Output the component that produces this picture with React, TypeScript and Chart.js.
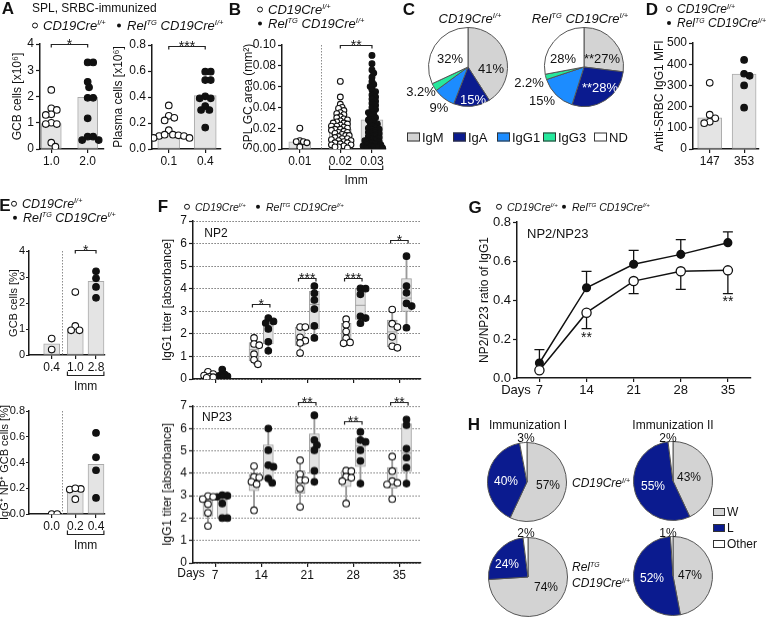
import React, { useEffect, useRef } from 'react';
import { Chart, registerables } from 'chart.js';

Chart.register(...registerables);

const FONT = "'Liberation Sans', Arial, Helvetica, sans-serif";
Chart.defaults.font.family = FONT;
Chart.defaults.color = '#111';

// ---------------- DATA ----------------
// A
const aGcbLabels = ['1.0', '2.0'];
const aGcbBars = [0.97, 1.97];
const aGcbWT = [2.25, 1.55, 1.49, 1.32, 1.3, 1.0, 0.95, 0.95, 0.24, 0.09];
const aGcbRel = [3.3, 3.3, 2.56, 2.35, 1.95, 1.95, 1.17, 0.47, 0.47, 0.34, 0.34];
const aPlasmaLabels = ['0.1', '0.4'];
const aPlasmaBars = [0.125, 0.41];
const aPlasmaWT = [0.335, 0.255, 0.24, 0.22, 0.145, 0.11, 0.105, 0.1, 0.1, 0.11, 0.085, 0.085];
const aPlasmaRel = [0.595, 0.595, 0.53, 0.53, 0.405, 0.39, 0.39, 0.33, 0.3, 0.3, 0.165];
// B
const bLabels = ['0.01', '0.02', '0.03'];
const bBars = [0.007, 0.019, 0.028];
const bWT = [0.02, 0.008, 0.007, 0.007, 0.006, 0.002];
const bImmWT = [0.065, 0.05, 0.043, 0.04, 0.039, 0.037, 0.035, 0.034, 0.033, 0.031, 0.03, 0.029, 0.028, 0.027, 0.026, 0.025, 0.025, 0.024, 0.023, 0.022, 0.022, 0.021, 0.02, 0.019, 0.019, 0.018, 0.017, 0.016, 0.016, 0.015, 0.014, 0.013, 0.013, 0.012, 0.011, 0.01, 0.01, 0.009, 0.008, 0.008, 0.007, 0.006, 0.006, 0.005, 0.004, 0.004, 0.003, 0.002, 0.002, 0.001];
const bImmRel = [0.09, 0.082, 0.076, 0.073, 0.069, 0.065, 0.062, 0.06, 0.057, 0.055, 0.052, 0.05, 0.048, 0.046, 0.044, 0.042, 0.04, 0.038, 0.036, 0.035, 0.033, 0.032, 0.03, 0.029, 0.028, 0.026, 0.025, 0.024, 0.022, 0.021, 0.02, 0.019, 0.018, 0.017, 0.016, 0.015, 0.014, 0.013, 0.012, 0.011, 0.01, 0.009, 0.008, 0.008, 0.007, 0.006, 0.005, 0.005, 0.004, 0.003, 0.003, 0.002, 0.002, 0.001, 0.001];
// C
const cCategories = ['IgM', 'IgA', 'IgG1', 'IgG3', 'ND'];
const cWT = [41, 15, 9, 3.2, 32];
const cRel = [27, 28, 15, 2.2, 28];
const cRelMarks = ['**', '**', '', '', ''];
// D
const dLabels = ['147', '353'];
const dBars = [147, 353];
const dWT = [312, 162, 145, 128, 122];
const dRel = [420, 355, 345, 300, 195];
// E
const eTopLabels = ['0.4', '1.0', '2.8'];
const eTopBars = [0.43, 1.02, 2.83];
const eTopNaive = [0.63, 0.21];
const eTopWT = [2.42, 1.12, 0.95, 0.95];
const eTopRel = [3.22, 2.95, 2.62, 2.2];
const eBotLabels = ['0.0', '0.2', '0.4'];
const eBotBars = [0.0, 0.19, 0.385];
const eBotNaive = [0, 0];
const eBotWT = [0.195, 0.19, 0.2, 0.115];
const eBotRel = [0.63, 0.44, 0.34, 0.125];
// F
const fDays = ['7', '14', '21', '28', '35'];
const fNp2WT = [
  [0.32, 0.22, 0.15, 0.1, 0.08, 0.05],
  [1.82, 1.55, 1.5, 1.1, 0.85, 0.65],
  [2.3, 2.3, 1.85, 1.7, 1.6, 1.15],
  [2.65, 2.4, 2.1, 1.8, 1.62, 1.58],
  [3.08, 2.45, 2.3, 1.87, 1.45, 1.38],
];
const fNp2Rel = [
  [0.42, 0.2, 0.15, 0.12, 0.1, 0.08],
  [2.7, 2.55, 2.48, 2.22, 1.65, 1.25],
  [4.12, 3.8, 3.5, 3.1, 2.35, 1.82],
  [4.02, 4.0, 3.75, 2.78, 2.7, 2.47],
  [5.44, 4.12, 3.82, 3.35, 3.23, 2.27],
];
const fNp23WT = [
  [2.98, 2.95, 2.85, 2.62, 2.23, 1.65],
  [4.32, 3.84, 3.81, 3.62, 3.51, 2.35],
  [4.58, 3.96, 3.69, 3.69, 3.32, 2.5],
  [4.12, 4.1, 3.85, 3.8, 3.65, 2.65],
  [4.75, 4.1, 3.65, 3.57, 3.5, 2.85],
];
const fNp23Rel = [
  [3.02, 3.0, 2.95, 2.65, 2.0, 2.0],
  [6.0, 5.03, 4.36, 4.29, 3.77, 3.57],
  [6.59, 5.48, 5.26, 5.03, 4.11, 3.62],
  [5.85, 5.48, 5.4, 5.03, 4.55, 3.54],
  [6.4, 6.15, 5.1, 4.7, 4.26, 3.54],
];
// G
const gDays = [7, 14, 21, 28, 35];
const gWT = [0.04, 0.335, 0.497, 0.547, 0.552];
const gWTsd = [0, 0.082, 0.064, 0.092, 0.119];
const gRel = [0.077, 0.463, 0.583, 0.634, 0.694];
const gRelSd = [0.069, 0.084, 0.072, 0.076, 0.055];
// H
const hCategories = ['W', 'L', 'Other'];
const hImmI_WT = [57, 40, 3];
const hImmII_WT = [43, 55, 2];
const hImmI_Rel = [74, 24, 2];
const hImmII_Rel = [47, 52, 1];

// ---------------- STYLE ----------------
const C_AXIS = '#1a1a1a';
const C_BAR = '#e4e4e4';
const C_BAR_BORDER = '#ababab';
const GRAY = '#d3d3d3';
const NAVY = '#0b1b8f';
const BLUE = '#1c8cff';
const GREEN = '#25e89c';
const WHITE = '#ffffff';
const cColors = [GRAY, NAVY, BLUE, GREEN, WHITE];
const hColors = [GRAY, NAVY, WHITE];

// ---------------- HELPERS ----------------
// beeswarm layout of the points (horizontal pixel offsets only)
function swarm(values: number[], yPx: number, r: number, tight: number, maxOff = Infinity): number[] {
  const dmin = 2 * r * tight;
  const order = values.map((_, i) => i).sort((a, b) => values[b] - values[a]);
  const placed: number[][] = [];
  const out = values.map(() => 0);
  order.forEach((i) => {
    const y = values[i] * yPx;
    let best = 0;
    let bestD = -1;
    for (let k = 0; k < 400; k++) {
      const c = (k % 2 ? 1 : -1) * Math.ceil(k / 2) * (dmin / 4);
      if (Math.abs(c) > maxOff) break;
      const md = placed.reduce((m, [px, py]) => Math.min(m, (px - c) ** 2 + (py - y) ** 2), Infinity);
      if (md >= dmin * dmin) {
        best = c;
        break;
      }
      if (md > bestD) {
        bestD = md;
        best = c;
      }
    }
    out[i] = best;
    placed.push([best, y]);
  });
  return out;
}

function quant(s: number[], p: number) {
  const n = s.length;
  const h = (n + 1) * p;
  if (h <= 1) return s[0];
  if (h >= n) return s[n - 1];
  const lo = Math.floor(h);
  return s[lo - 1] + (h - lo) * (s[lo] - s[lo - 1]);
}

const tickValues = (ymax: number, step: number) => {
  const t: number[] = [];
  for (let k = 0; k * step <= ymax + 1e-9; k++) t.push(+(k * step).toFixed(6));
  return t;
};

const zeroPad = (s: any) => {
  s.paddingTop = 0;
  s.paddingBottom = 0;
  s.paddingLeft = 0;
  s.paddingRight = 0;
};

function yAxisOpts(o: any) {
  const { ymax, step, dec, title, titlePad, axisW, fs = 12, titleFs = 12, grid = false, tl = 4, tp = 2 } = o;
  return {
    type: 'linear',
    min: 0,
    max: ymax,
    afterBuildTicks: (s: any) => {
      s.ticks = tickValues(ymax, step).map((value) => ({ value }));
    },
    ticks: {
      display: true,
      autoSkip: false,
      callback: (v: any) => Number(v).toFixed(dec),
      font: { size: fs },
      padding: tp,
      color: '#111',
    },
    grid: {
      display: true,
      drawOnChartArea: grid,
      drawTicks: true,
      color: grid ? '#555' : C_AXIS,
      lineWidth: 1,
      tickLength: tl,
      tickColor: C_AXIS,
      tickWidth: 1.2,
    },
    border: { display: true, color: C_AXIS, width: 1.5, dash: grid ? [1.2, 1.8] : [] },
    title: {
      display: true,
      text: title,
      font: { size: titleFs, lineHeight: 1 },
      padding: { top: titlePad, bottom: 0 },
      color: '#111',
    },
    afterFit: (s: any) => {
      s.width = axisW;
      zeroPad(s);
    },
  };
}

function xAxisOpts(xmin: number, xmax: number, pos: number[], labels: string[], axisH: number, fs: number) {
  return {
    type: 'linear',
    min: xmin,
    max: xmax,
    offset: false,
    afterBuildTicks: (s: any) => {
      s.ticks = pos.map((v) => ({ value: v }));
    },
    ticks: {
      callback: (_v: any, i: number) => labels[i] ?? '',
      autoSkip: false,
      maxRotation: 0,
      minRotation: 0,
      font: { size: fs },
      padding: 1,
      color: '#111',
    },
    grid: { drawOnChartArea: false, offset: false, tickLength: 4, color: C_AXIS, lineWidth: 1.2 },
    border: { color: C_AXIS, width: 1.5 },
    afterFit: (s: any) => {
      s.height = axisH;
      zeroPad(s);
    },
  };
}

const annotPlugin = {
  id: 'annot',
  beforeDatasetsDraw(chart: any, _a: any, o: any) {
    const { ctx, chartArea: ca, scales } = chart;
    const xs = scales.x;
    const ys = scales.y;
    ctx.save();
    (o.seps || []).forEach((s: number) => {
      const x = Math.round(xs.getPixelForValue(s)) + 0.5;
      ctx.strokeStyle = '#8c8c8c';
      ctx.lineWidth = 1;
      ctx.setLineDash([1.5, 1.5]);
      ctx.beginPath();
      ctx.moveTo(x, ca.top);
      ctx.lineTo(x, ca.bottom);
      ctx.stroke();
    });
    ctx.setLineDash([]);
    (o.errors || []).forEach((e: any) => {
      e.x.forEach((xv: number, i: number) => {
        if (!e.sd[i]) return;
        const px = xs.getPixelForValue(xv);
        const p0 = ys.getPixelForValue(e.y[i]);
        const p1 = ys.getPixelForValue(e.y[i] + e.dir * e.sd[i]);
        ctx.strokeStyle = '#111';
        ctx.lineWidth = 1.3;
        ctx.beginPath();
        ctx.moveTo(px, p0);
        ctx.lineTo(px, p1);
        ctx.moveTo(px - 5, p1);
        ctx.lineTo(px + 5, p1);
        ctx.stroke();
      });
    });
    ctx.restore();
  },
  afterDraw(chart: any, _a: any, o: any) {
    const { ctx, chartArea: ca, scales } = chart;
    const xs = scales.x;
    const ys = scales.y;
    ctx.save();
    ctx.strokeStyle = '#222';
    ctx.fillStyle = '#111';
    ctx.lineWidth = 1.2;
    ctx.textAlign = 'center';
    (o.brackets || []).forEach((b: any) => {
      const x1 = xs.getPixelForValue(b.x1);
      const x2 = xs.getPixelForValue(b.x2);
      const y = Math.round(ys.getPixelForValue(b.y)) + 0.5;
      ctx.beginPath();
      ctx.moveTo(x1, y + 3);
      ctx.lineTo(x1, y);
      ctx.lineTo(x2, y);
      ctx.lineTo(x2, y + 3);
      ctx.stroke();
      ctx.font = `14px ${FONT}`;
      ctx.textBaseline = 'alphabetic';
      ctx.fillText(b.text, (x1 + x2) / 2, y + 4);
    });
    if (o.imm) {
      const x1 = xs.getPixelForValue(o.imm[0]);
      const x2 = xs.getPixelForValue(o.imm[1]);
      const y = Math.round(ca.bottom + 20) + 0.5;
      ctx.beginPath();
      ctx.moveTo(x1, y - 4);
      ctx.lineTo(x1, y);
      ctx.lineTo(x2, y);
      ctx.lineTo(x2, y - 4);
      ctx.stroke();
      ctx.font = `12px ${FONT}`;
      ctx.textBaseline = 'middle';
      ctx.fillText('Imm', (x1 + x2) / 2, y + 11);
    }
    (o.texts || []).forEach((t: any) => {
      ctx.font = `${t.size || 14}px ${FONT}`;
      ctx.textBaseline = 'middle';
      ctx.fillText(t.text, xs.getPixelForValue(t.x), ys.getPixelForValue(t.y));
    });
    ctx.restore();
  },
};

function ChartBox({ left, top, width, height, make }: any) {
  const ref = useRef<HTMLCanvasElement | null>(null);
  useEffect(() => {
    const c = new Chart(ref.current as HTMLCanvasElement, make());
    return () => c.destroy();
  }, []);
  return (
    <canvas
      ref={ref}
      width={width}
      height={height}
      style={{ position: 'absolute', left, top, width, height }}
    />
  );
}

const baseOpts = (padTop: number, padRight: number, annot: any) => ({
  responsive: false,
  animation: false,
  events: [],
  layout: { padding: { top: padTop, right: padRight, left: 0, bottom: 0 } },
  plugins: { legend: { display: false }, tooltip: { enabled: false }, annot },
});

function DotChart({ s }: any) {
  const padRight = s.padRight ?? 4;
  const width = s.axisW + s.plotW + padRight;
  const height = s.padTop + s.plotH + s.axisH;
  const make = () => {
    const xPx = s.plotW / (s.xmax - s.xmin);
    const yPx = s.plotH / s.ymax;
    const datasets: any[] = [
      {
        type: 'bar',
        data: s.pos.map((p: number, i: number) => ({ x: p, y: s.bars[i] })),
        backgroundColor: C_BAR,
        borderColor: C_BAR_BORDER,
        borderWidth: 1,
        borderSkipped: false,
        barThickness: s.barW,
        grouped: false,
        order: 3,
      },
    ];
    s.pts.forEach((g: any) => {
      const offs = swarm(g.v, yPx, s.r, s.tight ?? 0.85, s.maxOff ?? Infinity);
      datasets.push({
        type: 'scatter',
        data: g.v.map((v: number, j: number) => ({ x: s.pos[g.g] + offs[j] / xPx, y: v })),
        pointRadius: s.r,
        pointBackgroundColor: g.filled ? '#111' : '#fff',
        pointBorderColor: '#111',
        pointBorderWidth: 1.1,
        order: 1,
      });
    });
    return {
      type: 'scatter',
      data: { datasets },
      options: {
        ...baseOpts(s.padTop, padRight, { seps: s.seps, brackets: s.brackets, imm: s.imm }),
        scales: {
          x: xAxisOpts(s.xmin, s.xmax, s.pos, s.labels, s.axisH, 12),
          y: yAxisOpts({
            ymax: s.ymax, step: s.step, dec: s.dec, title: s.title, titlePad: s.titlePad, axisW: s.axisW,
            fs: s.fs ?? 12, titleFs: s.titleFs ?? 12, tl: s.tl ?? 4, tp: s.tp ?? 2,
          }),
        },
      },
      plugins: [annotPlugin],
    };
  };
  return <ChartBox left={s.axisX - s.axisW} top={s.yTop - s.padTop} width={width} height={height} make={make} />;
}

function BoxChart({ s }: any) {
  const padRight = 2;
  const width = s.axisW + s.plotW + padRight;
  const height = s.padTop + s.plotH + s.axisH;
  const xmin = -0.48;
  const xmax = 4.47;
  const OFF = 0.155;
  const r = 3.3;
  const make = () => {
    const xPx = s.plotW / (xmax - xmin);
    const yPx = s.plotH / 7;
    const whisk: any[] = [];
    const boxes: any[] = [];
    const meds: any[] = [];
    const pts: any[][] = [[], []];
    [s.wt, s.rel].forEach((grp: number[][], gi: number) =>
      grp.forEach((vals, d) => {
        const x = d + (gi ? OFF : -OFF);
        const so = [...vals].sort((a, b) => a - b);
        whisk.push({ x, y: [so[0], so[so.length - 1]] });
        boxes.push({ x, y: [quant(so, 0.25), quant(so, 0.75)] });
        meds.push({ x, y: quant(so, 0.5) });
        const offs = swarm(vals, yPx, r, 0.8, 6);
        vals.forEach((v, j) => pts[gi].push({ x: x + offs[j] / xPx, y: v }));
      })
    );
    const datasets: any[] = [
      { type: 'bar', data: whisk, backgroundColor: '#9a9a9a', borderWidth: 0, barThickness: 1.2, grouped: false, order: 6 },
      { type: 'bar', data: boxes, backgroundColor: '#e2e2e2', borderColor: '#9e9e9e', borderWidth: 1, borderSkipped: false, barThickness: 10, grouped: false, order: 5 },
      { type: 'scatter', data: meds, pointStyle: 'line', pointRadius: 5, pointBorderColor: '#9e9e9e', pointBorderWidth: 1, order: 4 },
      { type: 'scatter', data: pts[0], pointRadius: r, pointBackgroundColor: '#fff', pointBorderColor: '#111', pointBorderWidth: 1.1, order: 1 },
      { type: 'scatter', data: pts[1], pointRadius: r, pointBackgroundColor: '#111', pointBorderColor: '#111', pointBorderWidth: 1.1, order: 1 },
    ];
    return {
      type: 'scatter',
      data: { datasets },
      options: {
        ...baseOpts(s.padTop, padRight, { brackets: s.brackets }),
        scales: {
          x: xAxisOpts(xmin, xmax, [0, 1, 2, 3, 4], s.labels, s.axisH, 12),
          y: yAxisOpts({ ymax: 7, step: 1, dec: 0, title: 'IgG1 titer [absorbance]', titlePad: s.titlePad, axisW: s.axisW, fs: 12, grid: true }),
        },
      },
      plugins: [annotPlugin],
    };
  };
  return <ChartBox left={s.axisX - s.axisW} top={s.yTop - s.padTop} width={width} height={height} make={make} />;
}

function LineChartG() {
  const axisX = 517, yTop = 221.7, axisW = 52, plotW = 235, plotH = 156, padTop = 8, axisH = 22, padRight = 4;
  const make = () => ({
    type: 'line',
    data: {
      datasets: [
        {
          data: gDays.map((d, i) => ({ x: d, y: gWT[i] })),
          borderColor: '#111',
          borderWidth: 1.5,
          pointRadius: 4.6,
          pointBackgroundColor: '#fff',
          pointBorderColor: '#111',
          pointBorderWidth: 1.3,
          tension: 0,
        },
        {
          data: gDays.map((d, i) => ({ x: d, y: gRel[i] })),
          borderColor: '#111',
          borderWidth: 1.5,
          pointRadius: 3.8,
          pointBackgroundColor: '#111',
          pointBorderColor: '#111',
          tension: 0,
        },
      ],
    },
    options: {
      ...baseOpts(padTop, padRight, {
        errors: [
          { x: gDays, y: gWT, sd: gWTsd, dir: -1 },
          { x: gDays, y: gRel, sd: gRelSd, dir: 1 },
        ],
        texts: [
          { x: 14, y: 0.205, text: '**' },
          { x: 35, y: 0.39, text: '**' },
        ],
      }),
      scales: {
        x: xAxisOpts(3.67, 38.3, gDays, gDays.map(String), axisH, 13),
        y: yAxisOpts({ ymax: 0.8, step: 0.2, dec: 1, title: 'NP2/NP23 ratio of IgG1', titlePad: 14, axisW, fs: 13 }),
      },
    },
    plugins: [annotPlugin],
  });
  return <ChartBox left={axisX - axisW} top={yTop - padTop} width={axisW + plotW + padRight} height={padTop + plotH + axisH} make={make} />;
}

function Pie({ cx, cy, r, values, colors, labels }: any) {
  const size = 2 * r + 4;
  const make = () => ({
    type: 'pie',
    data: { labels, datasets: [{ data: values, backgroundColor: colors, borderColor: '#555', borderWidth: 1 }] },
    options: {
      responsive: false,
      animation: false,
      events: [],
      layout: { padding: 2 },
      plugins: { legend: { display: false }, tooltip: { enabled: false } },
    },
  });
  return <ChartBox left={cx - r - 2} top={cy - r - 2} width={size} height={size} make={make} />;
}

function T({ x, y, a = 'c', s = 12, c = '#111', b = false, i = false, children }: any) {
  const tx = a === 'l' ? '0' : a === 'r' ? '-100%' : '-50%';
  return (
    <div
      style={{
        position: 'absolute',
        left: x,
        top: y,
        transform: `translate(${tx},-50%)`,
        fontSize: s,
        lineHeight: 1,
        color: c,
        fontWeight: b ? 700 : 400,
        fontStyle: i ? 'italic' : 'normal',
        whiteSpace: 'nowrap',
      }}
    >
      {children}
    </div>
  );
}

const supStyle: any = { fontSize: '0.58em', lineHeight: 0, verticalAlign: '0.6em' };
function Geno({ rel }: any) {
  return (
    <span style={{ fontStyle: 'italic' }}>
      {rel ? (
        <>
          Rel<span style={supStyle}>TG</span>{' '}
        </>
      ) : null}
      CD19Cre<span style={supStyle}>I/+</span>
    </span>
  );
}

function Leg({ x, y, filled, rel, s = 13 }: any) {
  return (
    <div
      style={{
        position: 'absolute',
        left: x,
        top: y,
        transform: 'translateY(-50%)',
        display: 'flex',
        alignItems: 'center',
        fontSize: s,
        lineHeight: 1,
        whiteSpace: 'nowrap',
      }}
    >
      <span
        style={{
          display: 'inline-block',
          width: filled ? 4 : 6,
          height: filled ? 4 : 6,
          borderRadius: '50%',
          border: filled ? 'none' : '1px solid #111',
          background: filled ? '#111' : '#fff',
          marginRight: filled ? 6 : 5,
          boxSizing: 'border-box',
        }}
      />
      <Geno rel={rel} />
    </div>
  );
}

function Letter({ x, y, t }: any) {
  return (
    <T x={x} y={y} s={17} b>
      <span style={{ fontWeight: 900 }}>{t}</span>
    </T>
  );
}

function Swatch({ x, y, color, label, w = 13, h = 9, s = 13 }: any) {
  return (
    <div style={{ position: 'absolute', left: x, top: y, transform: 'translateY(-50%)', display: 'flex', alignItems: 'center', fontSize: s, lineHeight: 1, whiteSpace: 'nowrap' }}>
      <span style={{ display: 'inline-block', width: w, height: h, background: color, border: '1px solid #333', boxSizing: 'border-box', marginRight: 2 }} />
      {label}
    </div>
  );
}

// -------- chart specs (layout) --------
const specA1 = {
  axisX: 40, yTop: 44, plotW: 65, plotH: 105, axisW: 40, padTop: 14, axisH: 24,
  xmin: -0.31, xmax: 1.446, ymax: 4, step: 1, dec: 0, title: 'GCB cells [x10⁶]', titlePad: 11.5,
  pos: [0, 1], labels: aGcbLabels, bars: aGcbBars,
  pts: [{ g: 0, v: aGcbWT, filled: false }, { g: 1, v: aGcbRel, filled: true }],
  barW: 20, r: 3.3, brackets: [{ x1: 0, x2: 1, y: 4, text: '*' }],
};
const specA2 = {
  axisX: 152, yTop: 45, plotW: 70, plotH: 104, axisW: 42, padTop: 15, axisH: 24,
  xmin: -0.46, xmax: 1.43, ymax: 0.8, step: 0.2, dec: 1, title: 'Plasma cells [x10⁶]', titlePad: 3,
  pos: [0, 1], labels: aPlasmaLabels, bars: aPlasmaBars,
  pts: [{ g: 0, v: aPlasmaWT, filled: false }, { g: 1, v: aPlasmaRel, filled: true }],
  barW: 22, r: 3.3, brackets: [{ x1: 0, x2: 1, y: 0.795, text: '***' }],
};
const specB = {
  axisX: 282, yTop: 45, plotW: 105, plotH: 104, axisW: 42, padTop: 15, axisH: 44,
  xmin: -0.5625, xmax: 2.72, ymax: 0.1, step: 0.02, dec: 2, title: 'SPL GC area (mm²)', titlePad: 3,
  pos: [0, 1.28, 2.28], labels: bLabels, bars: bBars,
  pts: [{ g: 0, v: bWT, filled: false }, { g: 1, v: bImmWT, filled: false }, { g: 2, v: bImmRel, filled: true }],
  barW: 22, r: 2.9, tight: 0.62, maxOff: 11, seps: [0.656],
  brackets: [{ x1: 1.28, x2: 2.28, y: 0.1, text: '**' }], imm: [0.94, 2.62],
};
const specD = {
  axisX: 693, yTop: 43, plotW: 67, plotH: 106, axisW: 48, padTop: 10, axisH: 24,
  xmin: -0.486, xmax: 1.43, ymax: 500, step: 100, dec: 0, title: 'Anti-SRBC IgG1 MFI', titlePad: 9,
  pos: [0, 1], labels: dLabels, bars: dBars,
  pts: [{ g: 0, v: dWT, filled: false }, { g: 1, v: dRel, filled: true }],
  barW: 24, r: 3.3,
};
const specETop = {
  axisX: 29, yTop: 250.7, plotW: 77, plotH: 104, axisW: 31, padTop: 12, axisH: 42,
  xmin: -1.095, xmax: 2.569, ymax: 4, step: 1, dec: 0, title: 'GCB cells [%]', titlePad: 10, fs: 11, titleFs: 11, tl: 3, tp: 1,
  pos: [0, 1.14, 2.14], labels: eTopLabels, bars: eTopBars,
  pts: [{ g: 0, v: eTopNaive, filled: false }, { g: 1, v: eTopWT, filled: false }, { g: 2, v: eTopRel, filled: true }],
  barW: 16, r: 3.3, seps: [0.5], brackets: [{ x1: 1.14, x2: 2.14, y: 4.04, text: '*' }], imm: [0.76, 2.52],
};
const specEBot = {
  axisX: 29, yTop: 411, plotW: 77, plotH: 103, axisW: 31, padTop: 8, axisH: 42,
  xmin: -1.095, xmax: 2.569, ymax: 0.8, step: 0.2, dec: 1, title: 'IgG⁺ NP⁺ GCB cells [%]', titlePad: 1.5, fs: 11, titleFs: 11, tl: 3, tp: 1,
  pos: [0, 1.14, 2.14], labels: eBotLabels, bars: eBotBars,
  pts: [{ g: 0, v: eBotNaive, filled: false }, { g: 1, v: eBotWT, filled: false }, { g: 2, v: eBotRel, filled: true }],
  barW: 16, r: 3.3, seps: [0.5], imm: [0.76, 2.52],
};
const specFTop = {
  axisX: 193, yTop: 220.7, plotW: 232, plotH: 158.3, axisW: 43, padTop: 8, axisH: 10, titlePad: 12,
  wt: fNp2WT, rel: fNp2Rel, labels: ['', '', '', '', ''],
  brackets: [
    { x1: 0.81, x2: 1.19, y: 3.32, text: '*' },
    { x1: 1.81, x2: 2.19, y: 4.46, text: '***' },
    { x1: 2.81, x2: 3.19, y: 4.46, text: '***' },
    { x1: 3.81, x2: 4.19, y: 6.18, text: '*' },
  ],
};
const specFBot = {
  axisX: 193, yTop: 406, plotW: 232, plotH: 156.7, axisW: 43, padTop: 14, axisH: 22, titlePad: 12,
  wt: fNp23WT, rel: fNp23Rel, labels: fDays,
  brackets: [
    { x1: 1.81, x2: 2.19, y: 7.17, text: '**' },
    { x1: 2.81, x2: 3.19, y: 6.34, text: '**' },
    { x1: 3.81, x2: 4.19, y: 7.17, text: '**' },
  ],
};

// pie label positions (layout)
const c1Pos = [[491, 68], [473, 99], [439, 107], [421, 91], [450, 58]];
const c2Pos = [[602, 58], [600, 87], [542, 100], [529, 82], [563, 58]];
const hPies = [
  { cx: 527, cy: 482, v: hImmI_WT, pos: [[548, 485], [506, 481], [526, 438]] },
  { cx: 673, cy: 481, v: hImmII_WT, pos: [[689, 477], [653, 486], [668, 438]] },
  { cx: 528, cy: 577, v: hImmI_Rel, pos: [[546, 587], [507, 564], [526, 533]] },
  { cx: 673, cy: 576, v: hImmII_Rel, pos: [[690, 575], [652, 578], [668, 533]] },
];

export default function App() {
  return (
    <div
      style={{
        position: 'fixed',
        left: 0,
        top: 0,
        width: 767,
        height: 625,
        background: '#fff',
        fontFamily: FONT,
        color: '#111',
      }}
    >
      {/* Panel A */}
      <Letter x={8} y={8} t="A" />
      <T x={32} y={8} a="l" s={12}>SPL, SRBC-immunized</T>
      <Leg x={32} y={25} />
      <Leg x={117} y={25} filled rel />
      <DotChart s={specA1} />
      <DotChart s={specA2} />

      {/* Panel B */}
      <Letter x={235} y={9} t="B" />
      <Leg x={257} y={9} />
      <Leg x={258} y={23} filled rel />
      <DotChart s={specB} />

      {/* Panel C */}
      <Letter x={409} y={9} t="C" />
      <T x={470} y={18} s={13}><Geno /></T>
      <T x={580} y={18} s={13}><Geno rel /></T>
      <Pie cx={468} cy={67} r={40} values={cWT} colors={cColors} labels={cCategories} />
      <Pie cx={584} cy={67} r={40} values={cRel} colors={cColors} labels={cCategories} />
      {cWT.map((v, i) => (
        <T key={'c1' + i} x={c1Pos[i][0]} y={c1Pos[i][1]} s={13} c={i === 1 ? '#fff' : '#111'}>{v}%</T>
      ))}
      {cRel.map((v, i) => (
        <T key={'c2' + i} x={c2Pos[i][0]} y={c2Pos[i][1]} s={13} c={i === 1 ? '#fff' : '#111'}>{cRelMarks[i]}{v}%</T>
      ))}
      {cCategories.map((c, i) => (
        <Swatch key={c} x={[407, 453, 497, 543, 594][i]} y={137} color={cColors[i]} label={c} />
      ))}

      {/* Panel D */}
      <Letter x={652} y={9} t="D" />
      <Leg x={666} y={9} s={12} />
      <Leg x={667} y={23} s={12} filled rel />
      <DotChart s={specD} />

      {/* Panel E */}
      <Letter x={5} y={205} t="E" />
      <Leg x={11} y={204} s={12.5} />
      <Leg x={13} y={218} s={12.5} filled rel />
      <DotChart s={specETop} />
      <DotChart s={specEBot} />

      {/* Panel F */}
      <Letter x={163} y={206} t="F" />
      <Leg x={184} y={207} s={10.5} />
      <Leg x={256} y={207} s={10.5} filled rel />
      <BoxChart s={specFTop} />
      <BoxChart s={specFBot} />
      <T x={216} y={233} s={12}>NP2</T>
      <T x={217} y={417} s={12}>NP23</T>
      <T x={191} y={573} s={12}>Days</T>

      {/* Panel G */}
      <Letter x={475} y={207} t="G" />
      <Leg x={496} y={207} s={10.5} />
      <Leg x={562} y={207} s={10.5} filled rel />
      <LineChartG />
      <T x={527} y={233} a="l" s={13}>NP2/NP23</T>
      <T x={516} y={389} s={13}>Days</T>

      {/* Panel H */}
      <Letter x={474} y={424} t="H" />
      <T x={528} y={425} s={12}>Immunization I</T>
      <T x={673} y={425} s={12}>Immunization II</T>
      {hPies.map((p, k) => (
        <Pie key={'hp' + k} cx={p.cx} cy={p.cy} r={40} values={p.v} colors={hColors} labels={hCategories} />
      ))}
      {hPies.map((p, k) =>
        p.v.map((v, i) => (
          <T key={'hl' + k + i} x={p.pos[i][0]} y={p.pos[i][1]} s={12} c={i === 1 ? '#fff' : '#111'}>{v}%</T>
        ))
      )}
      <T x={572} y={483} a="l" s={12}><Geno /></T>
      <T x={572} y={567} a="l" s={12}><span style={{ fontStyle: 'italic' }}>Rel<span style={supStyle}>TG</span></span></T>
      <T x={572} y={583} a="l" s={12}><Geno /></T>
      {hCategories.map((c, i) => (
        <Swatch key={c} x={713} y={512 + i * 16} color={hColors[i]} label={c} w={12} h={8} s={12} />
      ))}
    </div>
  );
}
